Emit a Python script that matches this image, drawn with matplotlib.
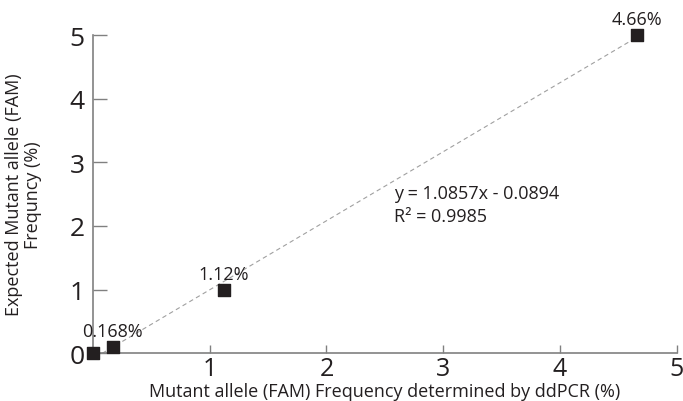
import numpy as np
import matplotlib
matplotlib.use("Agg")
from matplotlib import pyplot as plt

plt.rcParams['font.family'] = ['Open Sans', 'DejaVu Sans']

# measured vs expected mutant allele frequency (%)
measured = [0.0, 0.168, 1.12, 4.66]
expected = [0.0, 0.1, 1.0, 5.0]
point_labels = ["", "0.168%", "1.12%", "4.66%"]
slope, intercept = 1.0857, -0.0894
r2 = 0.9985

fig = plt.figure(figsize=(6.83, 4.02), dpi=100)
ax = fig.add_axes([0.136, 0.119, 0.855, 0.791])

# trendline
xs = np.array([0.08, 4.7])
ax.plot(xs, slope * xs + intercept, ls=(0, (4, 3)), color="#a0a0a0", lw=0.8, zorder=1)

ax.scatter(measured, expected, marker="s", s=70, color="#231f20", zorder=3, clip_on=False)
for x, y, lab in zip(measured, expected, point_labels):
    if lab:
        ax.annotate(lab, (x, y), xytext=(0, 5), textcoords="offset points",
                    ha="center", va="bottom", fontsize=13, color="#231f20")

ax.text(2.58, 2.34, f"y = {slope}x - {abs(intercept)}\nR\u00b2 = {r2}",
        fontsize=13, color="#231f20", va="center", ha="left", linespacing=1.4)

ax.set_xlim(0, 5)
ax.set_ylim(0, 5)
ax.set_xticks([1, 2, 3, 4, 5])
ax.set_yticks([0, 1, 2, 3, 4, 5])
for s in ["top", "right"]:
    ax.spines[s].set_visible(False)
for s in ["left", "bottom"]:
    ax.spines[s].set_color("#808080")
    ax.spines[s].set_linewidth(1.2)
ax.tick_params(axis="x", direction="in", length=6, width=1, color="#808080",
               labelsize=18, pad=2, labelcolor="#231f20")
ax.tick_params(axis="y", direction="in", length=10, width=1, color="#808080",
               labelsize=19, pad=6, labelcolor="#231f20")

ax.set_xlabel("Mutant allele (FAM) Frequency determined by ddPCR (%)", fontsize=13,
              color="#231f20", labelpad=1)
ax.set_ylabel("Expected Mutant allele (FAM)\nFrequncy (%)", fontsize=13,
              color="#231f20", labelpad=20, linespacing=1.05, multialignment="center")

fig.savefig("out.png", dpi=100)
